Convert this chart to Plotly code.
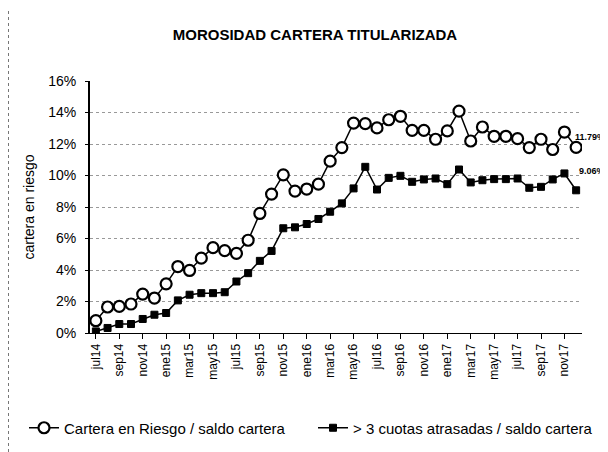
import plotly.graph_objects as go

months = ["jul14","ago14","sep14","oct14","nov14","dic14",
          "ene15","feb15","mar15","abr15","may15","jun15","jul15","ago15","sep15","oct15","nov15","dic15",
          "ene16","feb16","mar16","abr16","may16","jun16","jul16","ago16","sep16","oct16","nov16","dic16",
          "ene17","feb17","mar17","abr17","may17","jun17","jul17","ago17","sep17","oct17","nov17","dic17"]

cartera_riesgo = [0.78,1.65,1.69,1.84,2.47,2.22,3.12,4.22,3.97,4.75,5.42,5.23,5.06,5.89,7.59,8.82,10.04,9.01,9.14,9.45,10.91,11.77,
                  13.33,13.29,13.02,13.54,13.76,12.87,12.87,12.30,12.83,14.09,12.19,13.08,12.49,12.49,12.34,11.77,12.30,11.65,12.76,11.79]
cuotas_3 = [0.10,0.32,0.57,0.57,0.89,1.16,1.27,2.07,2.43,2.53,2.53,2.59,3.27,3.80,4.58,5.21,6.65,6.71,6.92,7.24,7.70,8.23,
            9.18,10.55,9.11,9.85,9.98,9.60,9.75,9.81,9.45,10.38,9.56,9.70,9.77,9.77,9.81,9.22,9.28,9.75,10.13,9.06]

tick_labels = months[::2]
ytick_vals = [0, 2, 4, 6, 8, 10, 12, 14, 16]

x = list(range(len(months)))
font = "Liberation Sans, Arial, sans-serif"

fig = go.Figure()
fig.add_trace(go.Scatter(
    x=x, y=cartera_riesgo, mode="lines+markers",
    name="Cartera en Riesgo / saldo cartera",
    line=dict(color="black", width=1.5),
    marker=dict(symbol="circle", size=11, color="white", line=dict(color="black", width=2.2)),
    legend="legend",
))
fig.add_trace(go.Scatter(
    x=x, y=cuotas_3, mode="lines+markers",
    name="> 3 cuotas atrasadas / saldo cartera",
    line=dict(color="black", width=1.5),
    marker=dict(symbol="square", size=7, color="black", line=dict(color="black", width=1)),
    legend="legend2",
))

ann_x = (599 - 82) / 492
fig.add_annotation(x=ann_x, y=cartera_riesgo[-1], text="<b>%.2f%%</b>" % cartera_riesgo[-1],
                   xref="paper", yref="y", showarrow=False, xanchor="right", yanchor="middle",
                   yshift=10, font=dict(size=9, color="black", family=font))
fig.add_annotation(x=ann_x, y=cuotas_3[-1], text="<b>%.2f%%</b>" % cuotas_3[-1],
                   xref="paper", yref="y", showarrow=False, xanchor="right", yanchor="middle",
                   yshift=19, font=dict(size=9, color="black", family=font))

# dotted page border on the left, as in the scan
fig.add_shape(type="line", xref="paper", yref="paper", x0=-81.5 / 492, x1=-81.5 / 492,
              y0=-119 / 252, y1=(252 + 72) / 252, line=dict(color="#777777", width=1, dash="dot"))

leg_common = dict(orientation="h", xref="container", yref="container", xanchor="left",
                  y=1 - 420 / 444, yanchor="middle", itemwidth=30, bgcolor="rgba(0,0,0,0)",
                  font=dict(size=15, color="black", family=font))

fig.update_layout(
    width=600, height=444,
    margin=dict(l=82, r=26, t=73, b=119),
    paper_bgcolor="white", plot_bgcolor="white",
    title=dict(text="<b>MOROSIDAD CARTERA TITULARIZADA</b>", x=307 / 600, xanchor="center",
               y=1 - 27 / 444, yanchor="middle", font=dict(size=15, color="black", family=font)),
    font=dict(family=font, color="black", size=12),
    showlegend=True,
    legend=dict(x=16 / 600, **leg_common),
    legend2=dict(x=305 / 600, **leg_common),
    xaxis=dict(range=[-0.5, len(months) - 0.5], tickmode="array",
               tickvals=x[::2], ticktext=tick_labels, tickangle=-90,
               showgrid=False, zeroline=False, showline=True, linecolor="black", linewidth=1,
               ticks="outside", ticklen=5, tickcolor="black",
               tickfont=dict(size=12, color="black", family=font)),
    yaxis=dict(range=[0, 16], tickmode="array", tickvals=ytick_vals,
               ticktext=["%d%%" % v for v in ytick_vals],
               showgrid=True, gridcolor="#999999", griddash="dot", gridwidth=1,
               zeroline=False, showline=True, linecolor="black", linewidth=2,
               ticks="outside", ticklen=3, tickcolor="black", ticklabelstandoff=6,
               tickfont=dict(size=14, color="black", family=font),
               title=dict(text="cartera en riesgo", font=dict(size=14, color="black", family=font), standoff=10)),
)

fig.write_html("out.html")
